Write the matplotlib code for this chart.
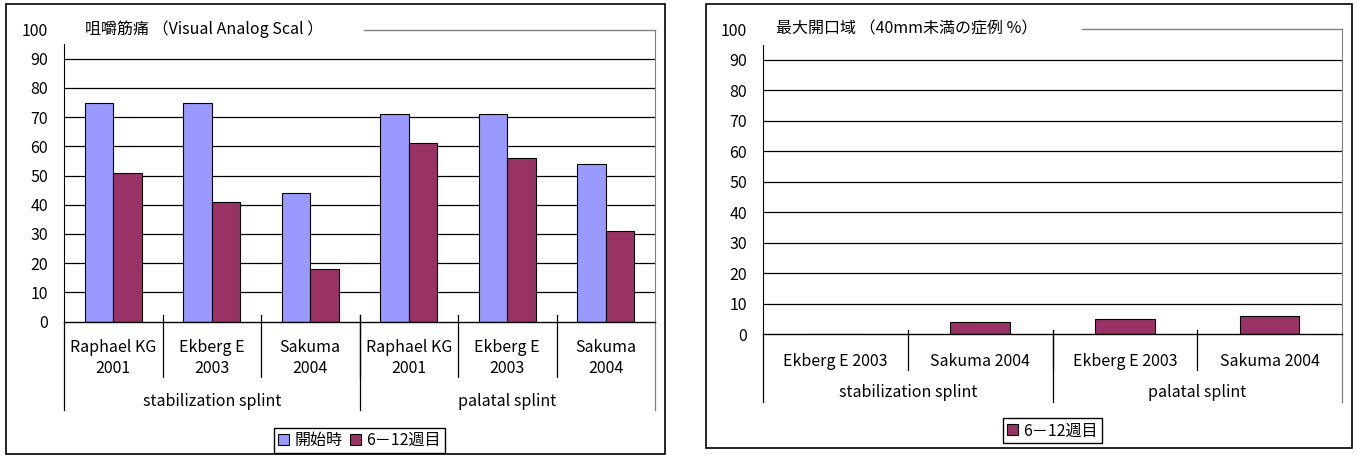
import numpy as np
import matplotlib.pyplot as plt
from matplotlib.patches import Rectangle, Patch

plt.rcParams['font.family'] = ['Noto Sans CJK JP', 'DejaVu Sans']
plt.rcParams['font.size'] = 11.5

# --- Datos ---
# gráfico izquierdo: dolor muscular (VAS)
left_title = "咀嚼筋痛 （Visual Analog Scal ）"
left_cats = ["Raphael KG\n2001", "Ekberg E\n2003", "Sakuma\n2004",
             "Raphael KG\n2001", "Ekberg E\n2003", "Sakuma\n2004"]
left_groups = ["stabilization splint", "palatal splint"]
left_group_size = [3, 3]
left_start = [75, 75, 44, 71, 71, 54]     # 開始時
left_week = [51, 41, 18, 61, 56, 31]      # 6－12週目

# gráfico derecho: apertura máxima
right_title = "最大開口域 （40mm未満の症例 %）"
right_cats = ["Ekberg E 2003", "Sakuma 2004", "Ekberg E 2003", "Sakuma 2004"]
right_groups = ["stabilization splint", "palatal splint"]
right_group_size = [2, 2]
right_week = [0, 4, 5, 6]                 # 6－12週目

series_names = ["開始時", "6－12週目"]
yticks = list(range(0, 101, 10))

C_BLUE = "#9999FF"
C_RED = "#993366"
GRAY = "#808080"

W, H = 1357, 455
fig = plt.figure(figsize=(W / 100, H / 100), dpi=100)


def px_rect(x0, y0, x1, y1):
    # pixeles (origen arriba-izq) -> fracción de figura
    return [x0 / W, 1 - y1 / H, (x1 - x0) / W, (y1 - y0) / H]


def setup_axes(ax, n, title, title_x, line_start):
    ax.set_xlim(0, n)
    ax.set_ylim(0, 100)
    ax.set_yticks(yticks)
    ax.tick_params(axis='y', length=0, pad=11.5)
    ax.set_xticks([])
    for y in yticks[1:-1]:
        ax.axhline(y, color='black', lw=0.9, zorder=1)
    ax.spines['top'].set_visible(False)
    ax.spines['right'].set_color(GRAY)
    ax.spines['left'].set_bounds(0, 95)
    ax.spines['bottom'].set_linewidth(1.0)
    ax.plot([line_start, 1], [1, 1], transform=ax.transAxes, color=GRAY,
            lw=1.0, clip_on=False)
    ax.text(title_x, 1.0, title, transform=ax.transAxes, va='center', ha='left')


def draw_categories(ax, cats, groups, sizes, sep_top, sep_bot, grp_bot,
                    cat_y, grp_y, linespacing=1.25):
    tr = ax.get_xaxis_transform()
    n = len(cats)
    for i in range(1, n):
        ax.plot([i, i], [sep_top, sep_bot], transform=tr, color='black',
                lw=0.9, clip_on=False)
    for i, c in enumerate(cats):
        ax.text(i + 0.5, cat_y, c, transform=tr, ha='center', va='center',
                linespacing=linespacing)
    edges = np.concatenate([[0], np.cumsum(sizes)])
    for k, e in enumerate(edges):
        col = GRAY if k == len(edges) - 1 else 'black'
        ax.plot([e, e], [sep_top if 0 < k < len(edges) - 1 else 0, grp_bot],
                transform=tr, color=col, lw=0.9, clip_on=False)
    for k, g in enumerate(groups):
        ax.text((edges[k] + edges[k + 1]) / 2, grp_y, g, transform=tr,
                ha='center', va='center')


legend_kw = dict(frameon=True, fancybox=False, edgecolor='black', framealpha=1,
                 handlelength=0.7, handleheight=0.7, handletextpad=0.3,
                 columnspacing=0.5, borderpad=0.25, borderaxespad=0)

# --- Gráfico izquierdo ---
axL = fig.add_axes(px_rect(64, 29.5, 655, 321.5))
setup_axes(axL, len(left_cats), left_title, 0.0355, 0.508)
x = np.arange(len(left_cats)) + 0.5
bw = 0.29
axL.bar(x - bw / 2, left_start, bw, color=C_BLUE, edgecolor='black',
        lw=0.8, zorder=2, label=series_names[0])
axL.bar(x + bw / 2, left_week, bw, color=C_RED, edgecolor='black',
        lw=0.8, zorder=2, label=series_names[1])
draw_categories(axL, left_cats, left_groups, left_group_size,
                0.022, -0.19, -0.303, -0.125, -0.275)
hL = [Patch(facecolor=C_BLUE, edgecolor='black', lw=0.8),
      Patch(facecolor=C_RED, edgecolor='black', lw=0.8)]
fig.legend(hL, series_names, loc='lower center', ncol=2,
           bbox_to_anchor=((64 + 655) / 2 / W, 1 - 453 / H), **legend_kw)

# --- Gráfico derecho ---
axR = fig.add_axes(px_rect(763, 29.3, 1342, 334.3))
setup_axes(axR, len(right_cats), right_title, 0.022, 0.551)
xr = np.arange(len(right_cats)) + 0.5
axR.bar(xr, right_week, 0.41, color=C_RED, edgecolor='black', lw=0.8,
        zorder=2, label=series_names[1])
draw_categories(axR, right_cats, right_groups, right_group_size,
                0.014, -0.117, -0.222, -0.09, -0.192)
hR = [Patch(facecolor=C_RED, edgecolor='black', lw=0.8)]
fig.legend(hR, series_names[1:], loc='lower center', ncol=1,
           bbox_to_anchor=((763 + 1342) / 2 / W, 1 - 443.3 / H), **legend_kw)

# --- Marcos exteriores ---
for r in [px_rect(5.5, 4, 665, 453.5), px_rect(705.7, 3.5, 1351.7, 447.7)]:
    fig.patches.append(Rectangle((r[0], r[1]), r[2], r[3], fill=False,
                                 edgecolor='black', lw=1.2,
                                 transform=fig.transFigure, figure=fig))

fig.savefig("out.png", dpi=100)
